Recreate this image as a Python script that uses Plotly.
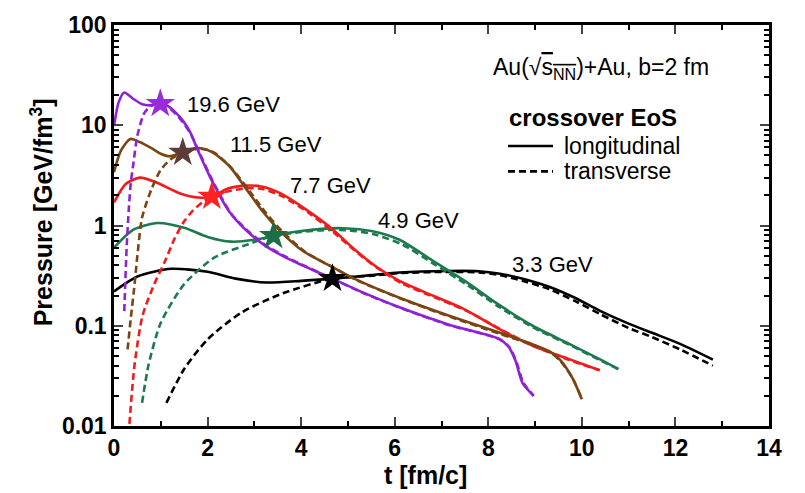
import math
import plotly.graph_objects as go

# ---- pressure evolution, Au+Au b=2 fm, crossover EoS ----
# longitudinal (solid) and transverse (dashed) pressure vs time for each energy

ENERGIES = ["19.6 GeV", "11.5 GeV", "7.7 GeV", "4.9 GeV", "3.3 GeV"]
COLORS = ["#8E22D4", "#7A4512", "#F01C1C", "#1D7A4E", "#000000"]
STAR_COLORS = ["#9A2ADB", "#5E3A38", "#FF2222", "#1B6E45", "#000000"]

T196_L = [0.0, 0.1, 0.22, 0.4, 0.6, 0.78, 0.99, 1.15, 1.33, 1.48, 1.63, 1.78, 2.1, 2.47, 2.83, 3.23, 3.63,
          4.03, 4.67, 5.33, 6.13, 7.18, 7.73, 8.23, 8.43, 8.58, 8.73, 8.97]
P196_L = [9.8, 17.0, 21.2, 18.5, 16.2, 15.8, 16.4, 15.6, 13.2, 11.0, 8.5, 5.8, 2.75, 1.36, 0.89, 0.63, 0.49,
          0.40, 0.295, 0.214, 0.151, 0.102, 0.087, 0.074, 0.062, 0.045, 0.027, 0.020]
T196_T = [0.22, 0.27, 0.32, 0.36, 0.41, 0.5, 0.65, 0.8, 0.99, 1.15, 1.33, 1.5, 1.66, 1.82, 2.15, 2.52, 2.9,
          3.3, 3.7, 4.1, 4.7, 5.35, 6.15, 7.2, 7.75, 8.25, 8.45, 8.6, 8.75, 8.97]
P196_T = [0.14, 0.6, 1.55, 2.7, 4.0, 7.9, 13.3, 15.6, 16.4, 15.3, 12.8, 10.3, 7.9, 5.4, 2.55, 1.28, 0.85,
          0.61, 0.48, 0.39, 0.29, 0.21, 0.149, 0.1, 0.086, 0.073, 0.061, 0.044, 0.027, 0.02]

T115_L = [0.0, 0.15, 0.35, 0.55, 0.8, 1.0, 1.18, 1.47, 1.65, 1.85, 2.1, 2.47, 2.83, 3.18, 3.53, 4.03, 4.6,
          5.1, 6.1, 7.18, 8.25, 9.0, 9.33, 9.55, 9.8, 10.0]
P115_L = [3.4, 5.6, 7.3, 6.8, 5.9, 5.2, 4.9, 5.35, 5.8, 5.9, 5.4, 3.9, 2.3, 1.38, 0.9, 0.56, 0.40,
          0.30, 0.19, 0.125, 0.085, 0.064, 0.055, 0.045, 0.03, 0.0185]
T115_T = [0.29, 0.36, 0.44, 0.5, 0.6, 0.8, 1.0, 1.22, 1.47, 1.7, 1.9, 2.15, 2.52, 2.9, 3.25, 3.6, 4.1,
          4.65, 5.15, 6.15, 7.2, 8.25, 9.0, 9.33, 9.55, 9.8, 10.0]
P115_T = [0.058, 0.12, 0.26, 0.5, 1.2, 2.3, 3.6, 4.6, 5.35, 5.75, 5.8, 5.3, 3.7, 2.2, 1.33, 0.87, 0.54,
          0.39, 0.29, 0.185, 0.122, 0.083, 0.063, 0.054, 0.044, 0.03, 0.0185]

T77_L = [0.0, 0.25, 0.55, 0.9, 1.4, 1.8, 2.09, 2.45, 2.83, 3.15, 3.55, 4.1, 4.67, 5.1, 5.6, 6.1, 6.6,
         7.5, 8.25, 8.95, 9.7, 10.38]
P77_L = [1.7, 2.6, 3.0, 2.7, 2.1, 1.9, 1.95, 2.35, 2.5, 2.45, 2.1, 1.45, 0.92, 0.6, 0.39, 0.28, 0.22,
         0.145, 0.092, 0.063, 0.047, 0.036]
T77_T = [0.33, 0.44, 0.61, 0.86, 1.1, 1.3, 1.5, 1.68, 1.9, 2.09, 2.45, 2.85, 3.2, 3.6, 4.15, 4.7, 5.15,
         5.65, 6.15, 6.65, 7.55, 8.3, 9.0, 9.7, 10.38]
P77_T = [0.0105, 0.041, 0.126, 0.26, 0.45, 0.75, 1.1, 1.4, 1.72, 1.95, 2.2, 2.35, 2.3, 1.95, 1.35, 0.85, 0.56,
         0.37, 0.265, 0.21, 0.14, 0.09, 0.062, 0.046, 0.036]

T49_L = [0.0, 0.4, 0.93, 1.5, 2.0, 2.5, 3.0, 3.41, 4.0, 4.5, 4.9, 5.5, 6.1, 6.8, 7.5, 8.2, 8.95, 9.7,
         10.4, 10.78]
P49_L = [0.6, 0.9, 1.06, 0.95, 0.77, 0.69, 0.72, 0.79, 0.88, 0.93, 0.94, 0.88, 0.72, 0.45, 0.28, 0.165, 0.1,
         0.067, 0.046, 0.037]
T49_T = [0.6, 0.74, 1.0, 1.5, 2.15, 2.87, 3.41, 4.0, 4.5, 4.95, 5.55, 6.15, 6.85, 7.55, 8.25, 9.0, 9.75,
         10.4, 10.78]
P49_T = [0.017, 0.041, 0.107, 0.26, 0.48, 0.65, 0.79, 0.86, 0.9, 0.9, 0.82, 0.65, 0.41, 0.255, 0.152, 0.094,
         0.064, 0.045, 0.037]

T33_L = [0.0, 0.5, 1.22, 2.0, 2.6, 3.25, 4.0, 4.67, 5.5, 6.1, 7.15, 7.8, 8.25, 8.8, 9.3, 9.85, 10.4, 11.0,
         11.5, 12.1, 12.8]
P33_L = [0.22, 0.31, 0.37, 0.345, 0.295, 0.27, 0.28, 0.295, 0.32, 0.34, 0.352, 0.35, 0.33, 0.29, 0.245, 0.19,
         0.14, 0.105, 0.085, 0.066, 0.046]
T33_T = [1.12, 1.5, 2.0, 2.72, 3.6, 4.67, 5.5, 6.1, 7.15, 7.8, 8.25, 8.8, 9.3, 9.85, 10.4, 11.0, 11.5, 12.1,
         12.8]
P33_T = [0.017, 0.037, 0.073, 0.135, 0.21, 0.295, 0.315, 0.335, 0.345, 0.34, 0.32, 0.275, 0.232, 0.177, 0.13,
         0.095, 0.077, 0.058, 0.040]

# times where the transverse pressure reaches the longitudinal one
T_STAR = [0.99, 1.47, 2.09, 3.41, 4.67]
P_STAR = [16.4, 5.35, 1.95, 0.79, 0.295]

X_TICKS = [0, 2, 4, 6, 8, 10, 12, 14]
Y_TICKS = [0.01, 0.1, 1, 10, 100]
Y_TICK_TEXT = ["0.01", "0.1", "1", "10", "100"]

SERIES = [
    (T196_L, P196_L, T196_T, P196_T),
    (T115_L, P115_L, T115_T, P115_T),
    (T77_L, P77_L, T77_T, P77_T),
    (T49_L, P49_L, T49_T, P49_T),
    (T33_L, P33_L, T33_T, P33_T),
]

FONT = "Arial, Liberation Sans, sans-serif"
LW = 2.6
DASH = "7px,4px"

fig = go.Figure()

# draw lowest-energy first so the 19.6 GeV curves sit on top
for i in reversed(range(len(SERIES))):
    tl, pl, tt, pt = SERIES[i]
    fig.add_trace(go.Scatter(x=tl, y=pl, mode="lines", name=ENERGIES[i] + " long.",
                             line=dict(color=COLORS[i], width=LW, shape="spline", smoothing=0.7),
                             showlegend=False))
    fig.add_trace(go.Scatter(x=tt, y=pt, mode="lines", name=ENERGIES[i] + " trans.",
                             line=dict(color=COLORS[i], width=LW, dash=DASH, shape="spline", smoothing=0.7),
                             showlegend=False))

fig.add_trace(go.Scatter(x=T_STAR, y=P_STAR, mode="markers", showlegend=False,
                         marker=dict(symbol="star", size=22, color=STAR_COLORS,
                                     line=dict(width=0))))

# plot-area geometry in pixels (805 x 493 canvas)
L, R, T, B = 114, 769, 15, 426
W, H = 805, 493


def px(x):
    return (x - L) / (R - L)


def py(y):
    return (B - y) / (B - T)


annotations = []
# energy labels next to each curve
LABEL_POS = [(1.51, 16.1), (2.43, 6.4), (3.71, 2.5), (5.61, 1.13), (8.46, 0.41)]
for (lx, ly), txt in zip(LABEL_POS, ENERGIES):
    annotations.append(dict(x=lx, y=math.log10(ly), xref="x", yref="y", text=txt, showarrow=False,
                            xanchor="left", yanchor="middle",
                            font=dict(family=FONT, size=22, color="black")))

annotations += [
    dict(x=px(491), y=py(60), xref="paper", yref="paper", xanchor="left", yanchor="middle",
         showarrow=False,
         text="Au(\u221a<span style='text-decoration:overline'>s<sub>NN</sub></span>)+Au, b=2 fm",
         font=dict(family=FONT, size=23, color="black")),
    dict(x=px(508), y=py(110), xref="paper", yref="paper", xanchor="left", yanchor="middle",
         showarrow=False, text="<b>crossover EoS</b>", borderpad=0,
         font=dict(family=FONT, size=24, color="black")),
    dict(x=px(563), y=py(139), xref="paper", yref="paper", xanchor="left", yanchor="middle",
         showarrow=False, text="longitudinal", borderpad=0,
         font=dict(family=FONT, size=23, color="black")),
    dict(x=px(563), y=py(165), xref="paper", yref="paper", xanchor="left", yanchor="middle",
         showarrow=False, text="transverse", borderpad=0,
         font=dict(family=FONT, size=23, color="black")),
    dict(x=px(42), y=py(207), xref="paper", yref="paper", xanchor="center", yanchor="middle",
         showarrow=False, textangle=-90, text="<b>Pressure [GeV/fm<sup>3</sup>]</b>",
         font=dict(family=FONT, size=25, color="black")),
    dict(x=px(425), y=py(476), xref="paper", yref="paper", xanchor="center", yanchor="middle",
         showarrow=False, text="<b>t [fm/c]</b>",
         font=dict(family=FONT, size=25, color="black")),
]

shapes = [
    dict(type="line", xref="paper", yref="paper", x0=px(508), x1=px(553), y0=py(139), y1=py(139),
         line=dict(color="black", width=LW)),
    dict(type="line", xref="paper", yref="paper", x0=px(508), x1=px(553), y0=py(165), y1=py(165),
         line=dict(color="black", width=LW, dash=DASH)),
]

minor_y = [m * 10 ** e for e in range(-2, 2) for m in range(2, 10)]

fig.update_layout(
    width=W, height=H,
    margin=dict(l=L, r=W - R, t=T, b=H - B, pad=0),
    paper_bgcolor="white", plot_bgcolor="white",
    annotations=annotations, shapes=shapes,
    showlegend=False,
    font=dict(family=FONT, color="black"),
)

fig.update_xaxes(range=[0, 14], tickvals=X_TICKS, ticks="inside", ticklen=9, tickwidth=2,
                 showline=True, linewidth=2.5, linecolor="black", mirror="ticks",
                 showgrid=False, zeroline=False,
                 tickfont=dict(family=FONT, size=23, color="black", weight="bold"),
                 minor=dict(ticks="inside", ticklen=5, tickwidth=1.6, dtick=1, tickcolor="black",
                            showgrid=False))
fig.update_yaxes(type="log", range=[-2, 2], tickvals=Y_TICKS, ticktext=Y_TICK_TEXT,
                 ticks="inside", ticklen=9, tickwidth=2,
                 showline=True, linewidth=2.5, linecolor="black", mirror="ticks",
                 showgrid=False, zeroline=False,
                 tickfont=dict(family=FONT, size=23, color="black", weight="bold"),
                 minor=dict(ticks="inside", ticklen=5, tickwidth=1.6, tickvals=minor_y,
                            tickcolor="black", showgrid=False))

fig.write_html("out.html")
